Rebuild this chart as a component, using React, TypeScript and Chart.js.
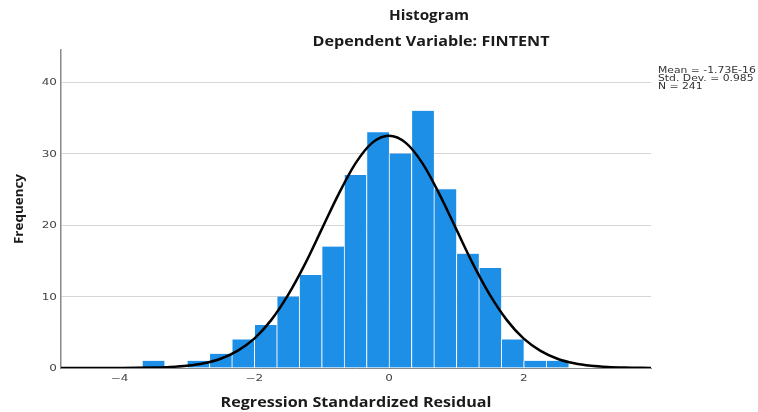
import { useEffect, useRef } from "react";
import { Chart, registerables } from "chart.js";

Chart.register(...registerables);

// Histogram bins (centres in residual units) and frequencies
const BIN_CENTERS = [-3.5, -3.167, -2.833, -2.5, -2.167, -1.833, -1.5, -1.167, -0.833, -0.5, -0.167, 0.167, 0.5, 0.833, 1.167, 1.5, 1.833, 2.167, 2.5];
const BIN_COUNTS = [1, 0, 1, 2, 4, 6, 10, 13, 17, 27, 33, 30, 36, 25, 16, 14, 4, 1, 1];

// Normal curve
const CURVE_X = [-4.87, -4.5, -4.0, -3.75, -3.5, -3.25, -3.0, -2.75, -2.5, -2.25, -2.0, -1.75, -1.5, -1.25, -1.0, -0.75, -0.5, -0.25, 0, 0.25, 0.5, 0.75, 1.0, 1.25, 1.5, 1.75, 2.0, 2.25, 2.5, 2.75, 3.0, 3.25, 3.5, 3.89];
const CURVE_Y = [0, 0.001, 0.008, 0.02, 0.06, 0.14, 0.31, 0.66, 1.3, 2.4, 4.1, 6.7, 10.2, 14.5, 19.4, 24.3, 28.6, 31.5, 32.5, 31.5, 28.6, 24.3, 19.4, 14.5, 10.2, 6.7, 4.1, 2.4, 1.3, 0.66, 0.31, 0.14, 0.06, 0.01];

const X_TICKS = [-4, -2, 0, 2];
const Y_TICKS = [0, 10, 20, 30, 40];
const X_MIN = -4.87;
const X_MAX = 3.89;
const Y_MAX = 44.5;

const TITLE = "Histogram";
const SUBTITLE = "Dependent Variable: FINTENT";
const X_TITLE = "Regression Standardized Residual";
const Y_TITLE = "Frequency";
const STATS = ["Mean = -1.73E-16", "Std. Dev. = 0.985", "N = 241"];

function drawText(
  ctx: CanvasRenderingContext2D,
  text: string,
  x: number,
  y: number,
  font: string,
  opts: { sx?: number; width?: number; align?: CanvasTextAlign; color?: string; rotate?: number }
) {
  ctx.save();
  ctx.font = font;
  const w = ctx.measureText(text).width;
  const sx = opts.width ? opts.width / w : opts.sx ?? 1;
  ctx.translate(x, y);
  if (opts.rotate) ctx.rotate(opts.rotate);
  ctx.scale(sx, 1);
  ctx.textAlign = opts.align ?? "center";
  ctx.textBaseline = "middle";
  ctx.fillStyle = opts.color ?? "#222";
  ctx.fillText(text, 0, 0);
  ctx.restore();
}

const decorPlugin = {
  id: "decor",
  afterDraw(chart: any) {
    const ctx: CanvasRenderingContext2D = chart.ctx;
    const area = chart.chartArea;
    const xs = chart.scales.x;
    const ys = chart.scales.y;
    const bold = "bold 14px 'Open Sans', 'DejaVu Sans', sans-serif";
    drawText(ctx, TITLE, 429, 16, bold, { width: 80, color: "#1a1a1a" });
    drawText(ctx, SUBTITLE, 431, 42, bold, { width: 237, color: "#1a1a1a" });
    drawText(ctx, X_TITLE, (area.left + area.right) / 2, 403, bold, { width: 271, color: "#1a1a1a" });
    drawText(ctx, Y_TITLE, 19, (area.top + area.bottom) / 2, "bold 13px 'Open Sans', 'DejaVu Sans', sans-serif", {
      width: 70,
      rotate: -Math.PI / 2,
      color: "#1a1a1a",
    });
    const small = "8px 'DejaVu Sans', sans-serif";
    Y_TICKS.forEach((v) => {
      drawText(ctx, String(v), area.left - 4, ys.getPixelForValue(v) + 1, small, { sx: 1.5, align: "right", color: "#444" });
    });
    X_TICKS.forEach((v) => {
      drawText(ctx, String(v).replace("-", "\u2212"), xs.getPixelForValue(v), area.bottom + 11, small, { sx: 1.5, color: "#444" });
    });
    STATS.forEach((s, i) => {
      drawText(ctx, s, area.right + 7, area.top + 21 + i * 8, small, { sx: 1.35, align: "left", color: "#333" });
    });
  },
};

export default function App() {
  const ref = useRef<HTMLCanvasElement | null>(null);
  useEffect(() => {
    if (!ref.current) return;
    const chart = new Chart(ref.current, {
      type: "bar",
      data: {
        datasets: [
          {
            type: "line",
            data: CURVE_X.map((x, i) => ({ x, y: CURVE_Y[i] })),
            borderColor: "#000",
            borderWidth: 2.5,
            pointRadius: 0,
            cubicInterpolationMode: "monotone",
            fill: false,
            order: 0,
          } as any,
          {
            type: "bar",
            data: BIN_CENTERS.map((x, i) => ({ x, y: BIN_COUNTS[i] })),
            backgroundColor: "#1e8fe6",
            borderColor: "#ffffff",
            borderWidth: { left: 1, right: 0, top: 0, bottom: 0 },
            borderSkipped: false,
            barPercentage: 1,
            categoryPercentage: 1,
            order: 1,
          } as any,
        ],
      },
      options: {
        responsive: false,
        animation: false,
        devicePixelRatio: 1,
        layout: { padding: { left: 61, right: 107, top: 50, bottom: 44 } },
        plugins: { legend: { display: false }, tooltip: { enabled: false }, title: { display: false } },
        scales: {
          x: {
            type: "linear",
            min: X_MIN,
            max: X_MAX,
            offset: false,
            grid: { display: false },
            border: { display: true, color: "#888" },
            ticks: { display: false },
            afterFit: (s: any) => {
              s.height = 0;
            },
          },
          y: {
            min: 0,
            max: Y_MAX,
            grid: { color: "#d6d6d6", drawTicks: false, lineWidth: 1 },
            border: { display: true, color: "#8a8a8a", width: 1.5 },
            ticks: { display: false },
            afterBuildTicks: (s: any) => {
              s.ticks = Y_TICKS.map((v) => ({ value: v }));
            },
            afterFit: (s: any) => {
              s.width = 0;
            },
          },
        },
      },
      plugins: [decorPlugin],
    });
    return () => chart.destroy();
  }, []);
  return (
    <div style={{ position: "absolute", left: 0, top: 0, width: 758, height: 412, background: "#fff" }}>
      <canvas ref={ref} width={758} height={412} style={{ display: "block" }} />
    </div>
  );
}
